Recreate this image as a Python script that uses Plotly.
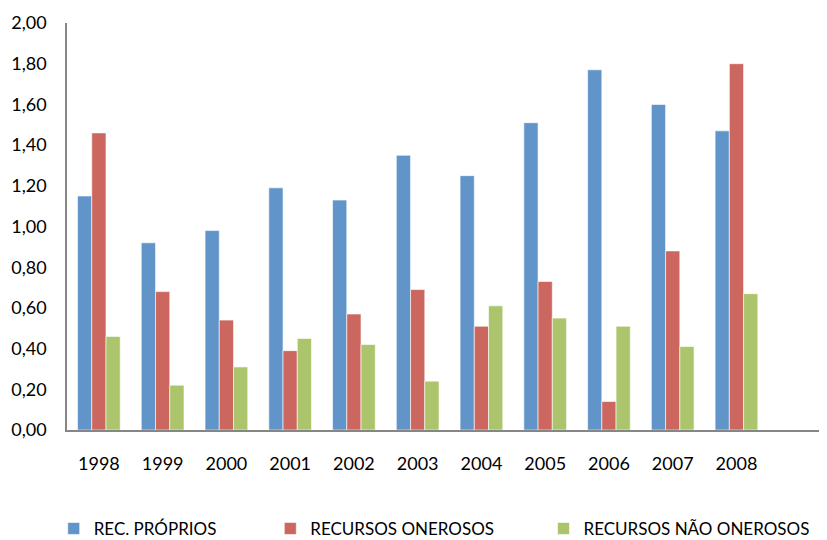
import plotly.graph_objects as go

years = ["1998", "1999", "2000", "2001", "2002", "2003", "2004", "2005", "2006", "2007", "2008"]
rec_proprios = [1.15, 0.92, 0.98, 1.19, 1.13, 1.35, 1.25, 1.51, 1.77, 1.60, 1.47]
recursos_onerosos = [1.46, 0.68, 0.54, 0.39, 0.57, 0.69, 0.51, 0.73, 0.14, 0.88, 1.80]
recursos_nao_onerosos = [0.46, 0.22, 0.31, 0.45, 0.42, 0.24, 0.61, 0.55, 0.51, 0.41, 0.67]
y_ticks = [0.0, 0.2, 0.4, 0.6, 0.8, 1.0, 1.2, 1.4, 1.6, 1.8, 2.0]
y_tick_text = ["0,00", "0,20", "0,40", "0,60", "0,80", "1,00", "1,20", "1,40", "1,60", "1,80", "2,00"]

xpos = list(range(len(years)))
FONT = "Lato"

fig = go.Figure()
series = [
    ("REC. PRÓPRIOS", rec_proprios, "#6195C9", "legend"),
    ("RECURSOS ONEROSOS", recursos_onerosos, "#CC6760", "legend2"),
    ("RECURSOS NÃO ONEROSOS", recursos_nao_onerosos, "#ACC56C", "legend3"),
]
for name, vals, col, lg in series:
    fig.add_trace(go.Bar(
        x=xpos, y=vals, name=name, legend=lg,
        marker=dict(color=col, line=dict(color="rgba(255,255,255,0.6)", width=1)),
    ))

leg_common = dict(orientation="h", yanchor="middle", y=-0.243, xanchor="left",
                  font=dict(family=FONT, size=17, color="#000000"),
                  bgcolor="rgba(0,0,0,0)", borderwidth=0)
fig.update_layout(
    width=819, height=532,
    margin=dict(l=59, r=0, t=15, b=110, autoexpand=False),
    paper_bgcolor="white", plot_bgcolor="white",
    barmode="group", bargap=0.33, bargroupgap=0,
    font=dict(family=FONT, size=18, color="#000000"),
    showlegend=True,
    legend=dict(x=-0.0175, **leg_common),
    legend2=dict(x=0.2675, **leg_common),
    legend3=dict(x=0.627, **leg_common),
    xaxis=dict(
        range=[-0.5, 11.42], tickvals=xpos, ticktext=years,
        showline=True, linecolor="#868686", linewidth=1.5,
        showgrid=False, zeroline=False, ticks="",
        ticklabelstandoff=17, tickfont=dict(family=FONT, size=18),
    ),
    yaxis=dict(
        range=[0, 2.0], tickvals=y_ticks, ticktext=y_tick_text,
        showline=True, linecolor="#868686", linewidth=1.5,
        showgrid=False, zeroline=False, ticks="",
        ticklabelstandoff=15, tickfont=dict(family=FONT, size=18),
    ),
)

fig.write_html("out.html")
